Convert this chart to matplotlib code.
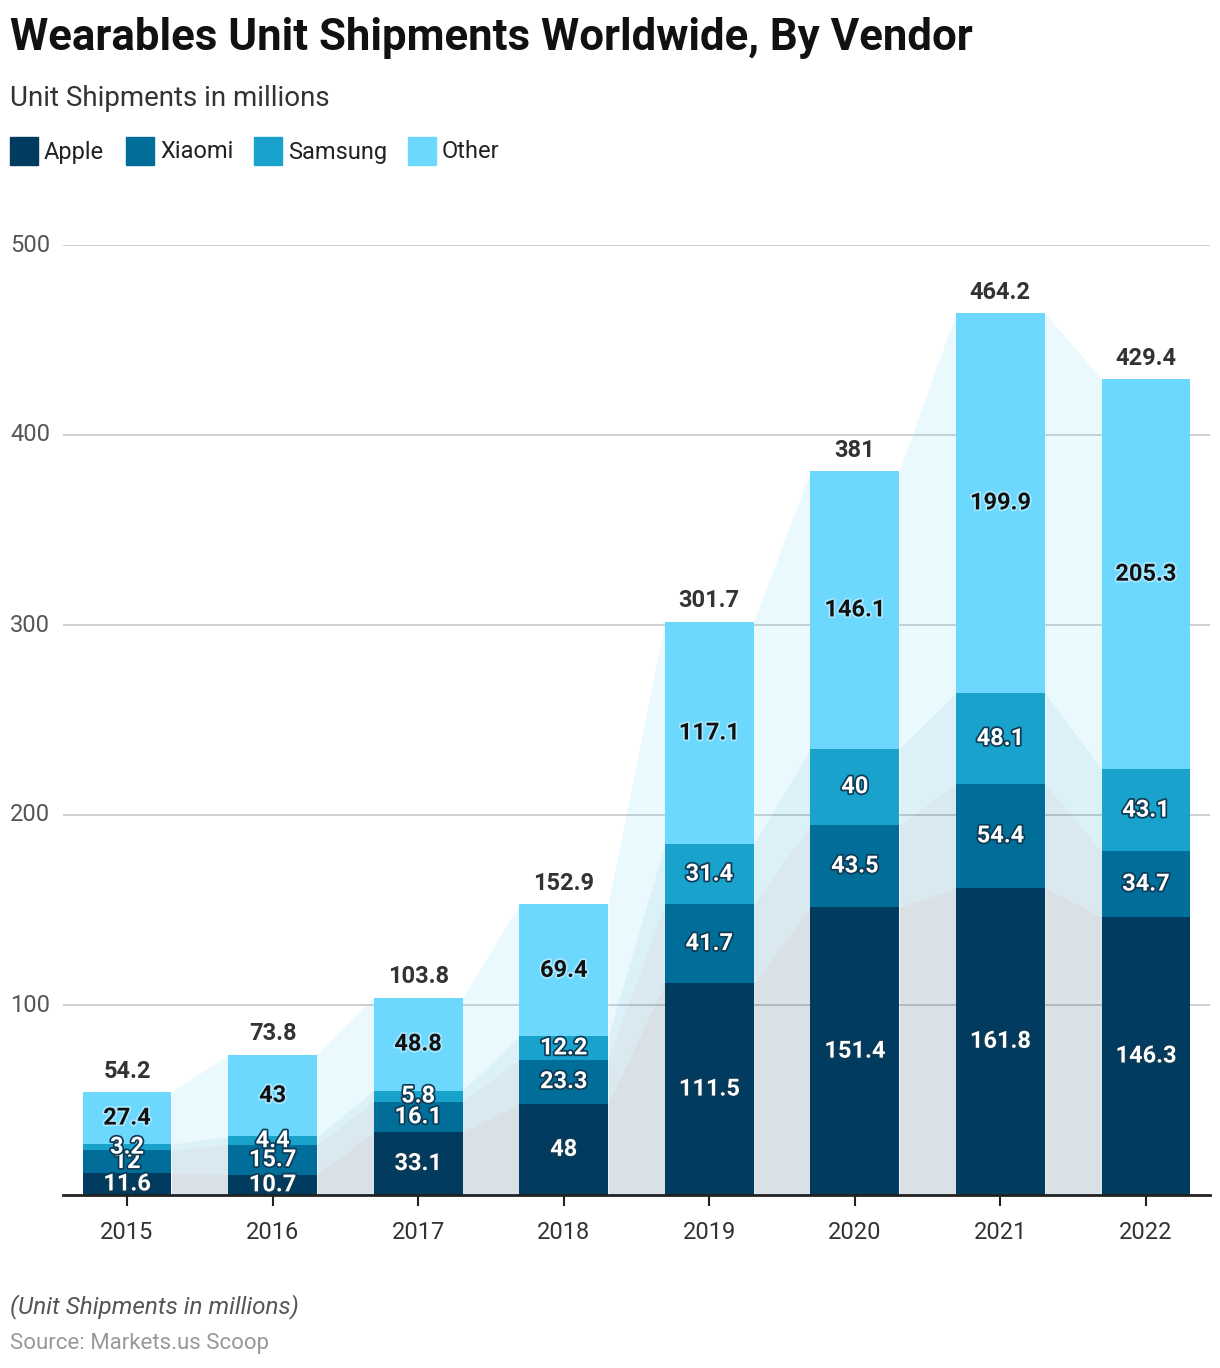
import numpy as np
import matplotlib.pyplot as plt
import matplotlib.patheffects as pe
from matplotlib.patches import Rectangle

plt.rcParams["font.family"] = ["Roboto", "DejaVu Sans"]

# data
years = ["2015", "2016", "2017", "2018", "2019", "2020", "2021", "2022"]
apple = [11.6, 10.7, 33.1, 48, 111.5, 151.4, 161.8, 146.3]
xiaomi = [12, 15.7, 16.1, 23.3, 41.7, 43.5, 54.4, 34.7]
samsung = [3.2, 4.4, 5.8, 12.2, 31.4, 40, 48.1, 43.1]
other = [27.4, 43, 48.8, 69.4, 117.1, 146.1, 199.9, 205.3]
totals = [54.2, 73.8, 103.8, 152.9, 301.7, 381, 464.2, 429.4]
y_ticks = [100, 200, 300, 400, 500]

series = [("Apple", apple, "#013b60"), ("Xiaomi", xiaomi, "#006e98"),
          ("Samsung", samsung, "#18a2cc"), ("Other", other, "#6cd8fe")]

fig = plt.figure(figsize=(12.2, 13.68), dpi=100)
ax = fig.add_axes([63 / 1220, 173 / 1368, (1210 - 63) / 1220, (1195 - 245) / 1368])

x = np.arange(len(years))
w = 0.61

# connecting shaded bands between bars
bottom = np.zeros(len(x))
for name, vals, col in series:
    top = bottom + np.array(vals)
    for i in range(len(x) - 1):
        ax.fill_between([x[i] + w / 2, x[i + 1] - w / 2], [bottom[i], bottom[i + 1]],
                        [top[i], top[i + 1]], color=col, alpha=0.15, lw=0, zorder=1)
    bottom = top

bottom = np.zeros(len(x))
for name, vals, col in series:
    vals = np.array(vals)
    ax.bar(x, vals, w, bottom=bottom, color=col, zorder=2)
    for i, v in enumerate(vals):
        if name == "Other":
            ax.text(x[i], bottom[i] + v / 2, f"{v:g}", ha="center", va="center",
                    fontsize=17, fontweight="bold", color="#111111", zorder=4,
                    path_effects=[pe.withStroke(linewidth=2.5, foreground="#a8e8ff")])
        else:
            ax.text(x[i], bottom[i] + v / 2, f"{v:g}", ha="center", va="center",
                    fontsize=17, fontweight="bold", color="white", zorder=4,
                    path_effects=[pe.withStroke(linewidth=2.5, foreground="#0d3a55")])
    bottom += vals

for i, t in enumerate(totals):
    ax.text(x[i], t + 5, f"{t:g}", ha="center", va="bottom", fontsize=17,
            fontweight="bold", color="#333333", zorder=4)

ax.set_xlim(-0.44, len(x) - 1 + 0.44)
ax.set_ylim(0, 500)
ax.set_yticks(y_ticks)
ax.set_yticklabels([])
for t in y_ticks:
    ax.axhline(t, color="#cccccc", lw=1.3, zorder=0)
    fig.text(10 / 1220, 1 - (1195 - t * 1.9) / 1368, str(t), ha="left", va="center",
             fontsize=17, color="#555555")
ax.tick_params(axis="y", length=0)
ax.set_xticks(x)
ax.set_xticklabels(years, fontsize=17, color="#333333")
ax.tick_params(axis="x", length=8, width=1.5, color="#222222", pad=11)
for s in ["top", "right", "left"]:
    ax.spines[s].set_visible(False)
ax.spines["bottom"].set_color("#222222")
ax.spines["bottom"].set_linewidth(2)
ax.spines["bottom"].set_zorder(5)

# title, subtitle
fig.text(10 / 1220, 1 - 38 / 1368, "Wearables Unit Shipments Worldwide, By Vendor",
         ha="left", va="center", fontsize=31.5, fontweight="bold", color="#111111")
fig.text(10 / 1220, 1 - 99 / 1368, "Unit Shipments in millions", ha="left", va="center",
         fontsize=20, color="#333333")

# legend
leg_x = [10, 126, 254, 408]
for (name, vals, col), lx in zip(series, leg_x):
    fig.patches.append(Rectangle((lx / 1220, 1 - 165 / 1368), 28 / 1220, 28 / 1368,
                                 transform=fig.transFigure, color=col))
    fig.text((lx + 34) / 1220, 1 - 152 / 1368, name, ha="left", va="center",
             fontsize=17, color="#222222")

# footer
fig.text(10 / 1220, 1 - 1307 / 1368, "(Unit Shipments in millions)", ha="left",
         va="center", fontsize=17.5, style="italic", color="#555555")
fig.text(10 / 1220, 1 - 1343 / 1368, "Source: Markets.us Scoop", ha="left",
         va="center", fontsize=16, color="#999999")

fig.savefig("out.png", dpi=100)
